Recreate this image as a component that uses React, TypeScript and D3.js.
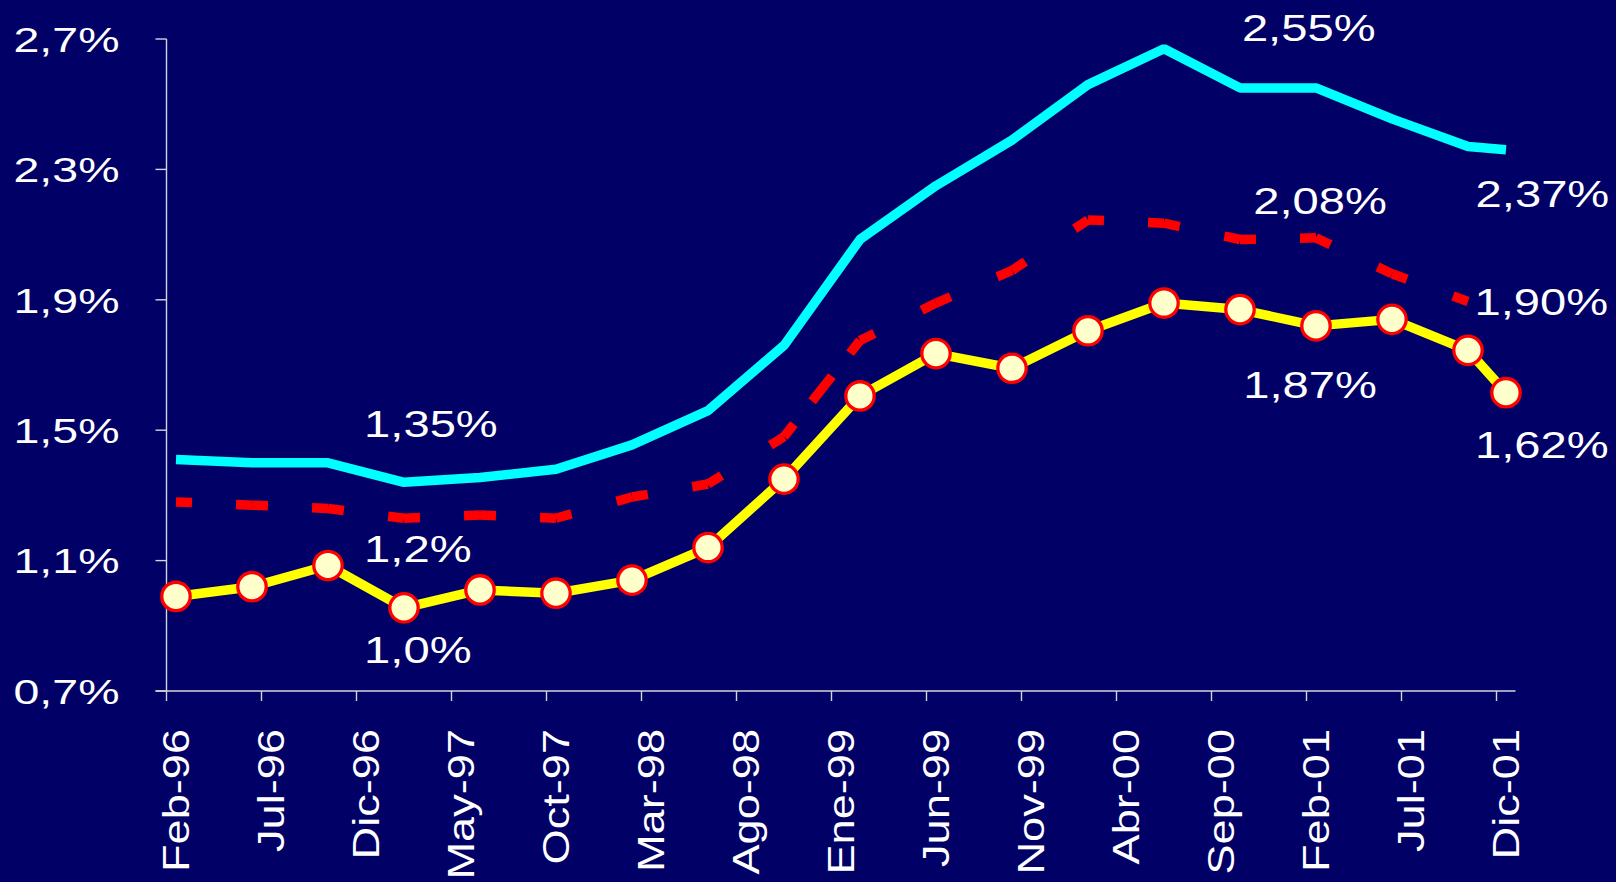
import React from "react";
import * as d3 from "d3";

// ---- data ----
const tickLabels = [
  "Feb-96", "Jul-96", "Dic-96", "May-97", "Oct-97", "Mar-98", "Ago-98", "Ene-99",
  "Jun-99", "Nov-99", "Abr-00", "Sep-00", "Feb-01", "Jul-01", "Dic-01",
];

const pointDates = [
  "1996-02", "1996-06", "1996-10", "1997-02", "1997-06", "1997-10", "1998-02",
  "1998-06", "1998-10", "1999-02", "1999-06", "1999-10", "2000-02", "2000-06",
  "2000-10", "2001-02", "2001-06", "2001-10", "2001-12",
];

const cyanValues = [
  1.41, 1.40, 1.40, 1.34, 1.355, 1.38, 1.455, 1.56, 1.76, 2.085, 2.25, 2.39,
  2.56, 2.67, 2.55, 2.55, 2.455, 2.37, 2.36,
];

const redValues: (number | null)[] = [
  1.28, 1.27, 1.26, 1.23, 1.24, 1.23, 1.295, 1.335, 1.48, 1.775, 1.89, 1.99,
  2.145, 2.135, 2.085, 2.09, 1.98, 1.895, null,
];

const yellowValues = [
  0.99, 1.02, 1.085, 0.955, 1.01, 1.0, 1.04, 1.14, 1.35, 1.605, 1.735, 1.69,
  1.805, 1.89, 1.87, 1.82, 1.84, 1.745, 1.615,
];

const yTicks = [0.7, 1.1, 1.5, 1.9, 2.3, 2.7];

// annotation texts anchored in data space (month offset from Feb-96, value)
const annotationTexts = ["1,35%", "1,2%", "1,0%", "2,55%", "2,08%", "2,37%", "1,90%", "1,87%", "1,62%"];
const annotationMonths = [10.4, 10.4, 10.4, 56.6, 57.2, 68.9, 68.84, 56.67, 68.87];
const annotationValues = [1.478, 1.097, 0.785, 2.694, 2.163, 2.184, 1.853, 1.598, 1.414];

// ---- layout ----
const W = 1616;
const H = 882;
const BG = "#000066";
const FONT = "'Liberation Sans', Arial, sans-serif";

const monthIndex = (s: string) => {
  const [yy, mm] = s.split("-").map(Number);
  return (yy - 1996) * 12 + (mm - 2);
};

export default function App() {
  const x = d3.scaleLinear().domain([0, 71]).range([166.5, 1515.5]);
  const y = d3.scaleLinear().domain([0.7, 2.7]).range([691, 39]);

  const px = pointDates.map((d) => x(monthIndex(d) + 0.5));

  const line = d3
    .line<[number, number | null]>()
    .defined((d) => d[1] != null)
    .x((d) => d[0])
    .y((d) => y(d[1] as number));

  const cyanPath = line(px.map((p, i) => [p, cyanValues[i]]) as any) || "";
  const yellowPath = line(px.map((p, i) => [p, yellowValues[i]]) as any) || "";

  // red dashed: each segment drawn with a dash centred on every vertex
  const redPts: [number, number][] = [];
  redValues.forEach((v, i) => {
    if (v != null) redPts.push([px[i], y(v)]);
  });
  const D = 32;
  const redSegs = redPts.slice(1).map((p, i) => {
    const a = redPts[i];
    const L = Math.hypot(p[0] - a[0], p[1] - a[1]);
    const n = Math.max(1, Math.round(L / 75));
    const P = L / n;
    return {
      d: `M${a[0]},${a[1]}L${p[0]},${p[1]}`,
      dash: `${D} ${P - D}`,
      offset: D / 2,
    };
  });

  const axisColor = "#d4d4dc";
  const fmt = (v: number) => d3.format(".1f")(v).replace(".", ",") + "%";

  return (
    <svg
      width={W}
      height={H}
      style={{ position: "absolute", left: 0, top: 0, display: "block" }}
      fontFamily={FONT}
    >
      <rect x={0} y={0} width={W} height={H} fill={BG} />

      {/* axes */}
      <line x1={x(0)} x2={x(0)} y1={y(2.7)} y2={y(0.7)} stroke={axisColor} strokeWidth={1.4} />
      <line x1={x(0) - 11} x2={x(71)} y1={y(0.7)} y2={y(0.7)} stroke={axisColor} strokeWidth={1.4} />
      {yTicks.map((t) => (
        <g key={t}>
          <line x1={x(0) - 11} x2={x(0)} y1={y(t)} y2={y(t)} stroke={axisColor} strokeWidth={1.4} />
          <text
            transform={`translate(119.5,${y(t)}) scale(1.31,1)`}
            textAnchor="end"
            dy="0.358em"
            fill="#ffffff"
            fontSize={35.5}
          >
            {fmt(t)}
          </text>
        </g>
      ))}
      {tickLabels.map((lab, i) => (
        <g key={lab}>
          <line x1={x(5 * i)} x2={x(5 * i)} y1={y(0.7)} y2={y(0.7) + 10} stroke={axisColor} strokeWidth={1.4} />
          <text
            transform={`translate(${x(5 * i + 0.5)},729) rotate(-90) scale(1.22,1)`}
            textAnchor="end"
            dy="0.358em"
            fill="#ffffff"
            fontSize={37}
          >
            {lab}
          </text>
        </g>
      ))}

      {/* series */}
      <path d={cyanPath} fill="none" stroke="#00ffff" strokeWidth={9.5} strokeLinejoin="bevel" />
      {redSegs.map((s, i) => (
        <path
          key={i}
          d={s.d}
          fill="none"
          stroke="#ff0000"
          strokeWidth={9.5}
          strokeDasharray={s.dash}
          strokeDashoffset={s.offset}
        />
      ))}
      <path d={yellowPath} fill="none" stroke="#ffff00" strokeWidth={9.5} strokeLinejoin="round" />
      {yellowValues.map((v, i) => (
        <circle key={i} cx={px[i]} cy={y(v)} r={14.2} fill="#ffffcc" stroke="#ff0000" strokeWidth={3.3} />
      ))}

      {/* annotations */}
      {annotationTexts.map((t, i) => (
        <text
          key={t}
          transform={`translate(${x(annotationMonths[i])},${y(annotationValues[i])}) scale(1.31,1)`}
          fill="#ffffff"
          fontSize={36}
        >
          {t}
        </text>
      ))}
    </svg>
  );
}
